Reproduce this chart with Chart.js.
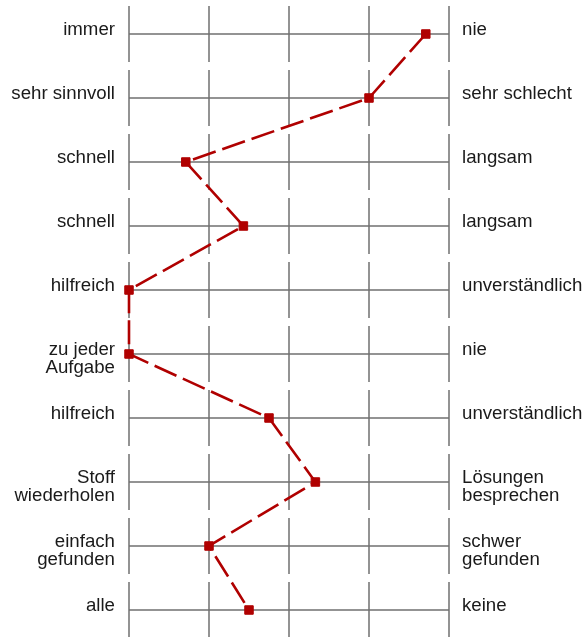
<!DOCTYPE html>
<html>
<head>
<meta charset="utf-8">
<script src="https://cdn.jsdelivr.net/npm/chart.js@4.4.1/dist/chart.umd.min.js"></script>
<style>
  html, body { margin: 0; padding: 0; background: #fff; overflow: hidden; }
  #wrap { width: 584px; height: 644px; position: relative; }
</style>
</head>
<body>
<div id="wrap"><canvas id="chart"></canvas></div>
<script>
// Polar adjectives, one row each (left pole / right pole)
const leftLabels = [
  ['immer'], ['sehr sinnvoll'], ['schnell'], ['schnell'], ['hilfreich'],
  ['zu jeder', 'Aufgabe'], ['hilfreich'], ['Stoff', 'wiederholen'],
  ['einfach', 'gefunden'], ['alle']
];
const rightLabels = [
  ['nie'], ['sehr schlecht'], ['langsam'], ['langsam'], ['unverständlich'],
  ['nie'], ['unverständlich'], ['Lösungen', 'besprechen'],
  ['schwer', 'gefunden'], ['keine']
];
// Mean rating per row on the 1..5 scale
const ratings = [4.71, 4.0, 1.71, 2.43, 1.0, 1.0, 2.75, 3.33, 2.0, 2.5];
// Scale steps that get a vertical tick line
const scaleSteps = [1, 2, 3, 4, 5];

const rowNumbers = leftLabels.map((_, i) => i + 1);

// Draws the row lines, the broken vertical tick lines and the pole labels
const rowGrid = {
  id: 'rowGrid',
  beforeDatasetsDraw(chart) {
    const { ctx, scales: { x, y } } = chart;
    const x0 = x.getPixelForValue(scaleSteps[0]);
    const x1 = x.getPixelForValue(scaleSteps[scaleSteps.length - 1]);
    ctx.save();
    ctx.strokeStyle = '#707070';
    ctx.lineWidth = 1.5;
    ctx.beginPath();
    rowNumbers.forEach(r => {
      const py = y.getPixelForValue(r);
      const half = Math.abs(y.getPixelForValue(r + 0.4375) - py);
      ctx.moveTo(x0, py);
      ctx.lineTo(x1, py);
      scaleSteps.forEach(s => {
        const px = x.getPixelForValue(s);
        ctx.moveTo(px, py - half);
        ctx.lineTo(px, py + half);
      });
    });
    ctx.stroke();

    ctx.fillStyle = '#1a1a1a';
    ctx.font = '18.67px "Liberation Sans", Arial, sans-serif';
    ctx.textBaseline = 'alphabetic';
    const lineH = 18;
    rowNumbers.forEach((r, i) => {
      const py = y.getPixelForValue(r) + 1;
      ctx.textAlign = 'right';
      leftLabels[i].forEach((t, k) => ctx.fillText(t, x0 - 14, py + k * lineH));
      ctx.textAlign = 'left';
      rightLabels[i].forEach((t, k) => ctx.fillText(t, x1 + 13, py + k * lineH));
    });
    ctx.restore();
  }
};

new Chart(document.getElementById('chart'), {
  type: 'line',
  data: {
    datasets: [{
      data: ratings.map((v, i) => ({ x: v, y: rowNumbers[i] })),
      borderColor: '#b00000',
      backgroundColor: '#b00000',
      borderWidth: 2.6,
      borderDash: [24, 7],
      pointStyle: 'rect',
      pointRadius: 6,
      pointBorderWidth: 1,
      pointBorderColor: '#b00000',
      pointBackgroundColor: '#b00000',
      tension: 0,
      clip: false
    }]
  },
  options: {
    responsive: true,
    maintainAspectRatio: false,
    animation: false,
    layout: { autoPadding: false, padding: { left: 129, right: 135, top: 2, bottom: 2 } },
    plugins: {
      legend: { display: false },
      tooltip: { enabled: false }
    },
    scales: {
      x: { type: 'linear', min: 1, max: 5, display: false },
      y: { type: 'linear', min: 0.5, max: 10.5, reverse: true, display: false }
    }
  },
  plugins: [rowGrid]
});
</script>
</body>
</html>
